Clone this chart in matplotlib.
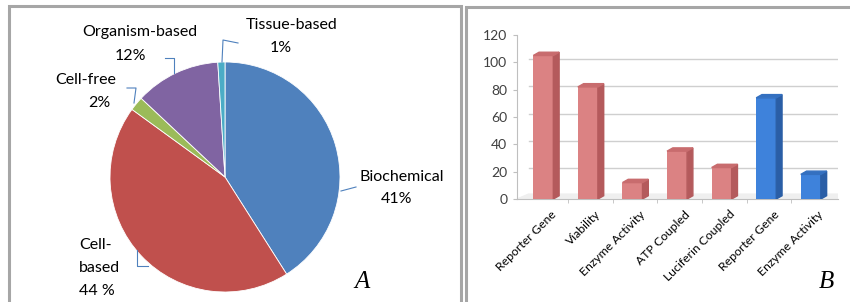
import matplotlib
matplotlib.use('Agg')
import matplotlib.pyplot as plt
from matplotlib.patches import Rectangle
import numpy as np

plt.rcParams['font.family'] = ['Lato', 'DejaVu Sans']

W, H = 850, 302

# pie data
pie_labels = ['Biochemical', 'Cell-based', 'Cell-free', 'Organism-based', 'Tissue-based']
pie_values = [41, 44, 2, 12, 1]
pie_pct = ['41%', '44 %', '2%', '12%', '1%']
pie_colors = ['#4F81BD', '#C0504D', '#9BBB59', '#8064A2', '#4BACC6']

# bar data
bar_labels = ['Reporter Gene', 'Viability', 'Enzyme Activity', 'ATP Coupled',
              'Luciferin Coupled', 'Reporter Gene', 'Enzyme Activity']
bar_values = [105, 82, 12, 35, 23, 74, 18]
bar_group = ['cell', 'cell', 'cell', 'cell', 'cell', 'bio', 'bio']
y_ticks = [0, 20, 40, 60, 80, 100, 120]


def fx(px):
    return px / W


def fy(py):
    return 1 - py / H


fig = plt.figure(figsize=(W / 100, H / 100), dpi=100)

# panel frames
fig.patches.append(Rectangle((fx(9), fy(310)), fx(461) - fx(9), fy(6) - fy(310),
                             transform=fig.transFigure, fill=False,
                             edgecolor='#A6A6A6', linewidth=2.2))
fig.patches.append(Rectangle((fx(466), fy(310)), fx(860) - fx(466), fy(7) - fy(310),
                             transform=fig.transFigure, fill=False,
                             edgecolor='#A6A6A6', linewidth=2.2))

# ---- panel A: pie ----
cx, cy, r = 225, 177, 115
axp = fig.add_axes([fx(cx - r), fy(cy + r), (2 * r) / W, (2 * r) / H])
axp.pie(pie_values, colors=pie_colors, startangle=90, counterclock=False,
        radius=1, wedgeprops=dict(edgecolor='white', linewidth=0.6))
axp.set_xlim(-1, 1)
axp.set_ylim(-1, 1)
axp.axis('off')


def px2d(px, py):
    return (px - cx) / r, (cy - py) / r


leaders = [
    [(341, 191), (356, 187)],
    [(148, 266), (137, 266), (137, 250)],
    [(127, 88), (136, 88), (134, 103)],
    [(165, 58), (174, 58), (174, 73)],
    [(238, 43), (223, 40), (222, 62)],
]
for pts in leaders:
    xs, ys = zip(*[px2d(*p) for p in pts])
    axp.plot(xs, ys, color='#4F81BD', linewidth=0.8, clip_on=False)

fs = 11.5
fig.text(fx(402), fy(177), pie_labels[0], ha='center', va='center', fontsize=fs)
fig.text(fx(397), fy(199), pie_pct[0], ha='center', va='center', fontsize=fs)
fig.text(fx(79), fy(245), 'Cell-', ha='left', va='center', fontsize=fs)
fig.text(fx(79), fy(268), 'based', ha='left', va='center', fontsize=fs)
fig.text(fx(79), fy(291), pie_pct[1], ha='left', va='center', fontsize=fs)
fig.text(fx(86), fy(80), pie_labels[2], ha='center', va='center', fontsize=fs)
fig.text(fx(99), fy(103), pie_pct[2], ha='center', va='center', fontsize=fs)
fig.text(fx(140), fy(32), pie_labels[3], ha='center', va='center', fontsize=fs)
fig.text(fx(130), fy(56), pie_pct[3], ha='center', va='center', fontsize=fs)
fig.text(fx(292), fy(25), pie_labels[4], ha='center', va='center', fontsize=fs)
fig.text(fx(281), fy(48), pie_pct[4], ha='center', va='center', fontsize=fs)
fig.text(fx(362), fy(282), 'A', ha='center', va='center', fontsize=18,
         family='Liberation Serif', style='italic')

# ---- panel B: pseudo 3D bars ----
axb = fig.add_axes([fx(517), fy(199), fx(838) - fx(517), fy(35) - fy(199)])
x = np.arange(len(bar_values))
w = 0.45
dx, dy = 0.13, 2.4
off = -0.06
front = {'cell': '#DB8283', 'bio': '#3E82DB'}
side = {'cell': '#B45A5C', 'bio': '#2A5EA6'}
top = {'cell': '#C86C6E', 'bio': '#3470C0'}

axb.fill([-0.65, 6.55, 6.55 + dx * 2, -0.65 + dx * 2], [0, 0, dy * 1.5, dy * 1.5],
         color='#EFEFEF', zorder=1)
for t in y_ticks[1:]:
    axb.plot([-0.65 + dx * 2, 6.6], [t + dy, t + dy], color='#CFCFCF', linewidth=1, zorder=0)

for xi, v, g in zip(x, bar_values, bar_group):
    xl = xi + off - w / 2
    xr = xi + off + w / 2
    axb.bar(xi + off, v, width=w, color=front[g], linewidth=0, zorder=3)
    axb.fill([xr, xr + dx, xr + dx, xr], [0, dy, v + dy, v], color=side[g], zorder=3)
    axb.fill([xl, xr, xr + dx, xl + dx], [v, v, v + dy, v + dy], color=top[g], zorder=3)

axb.set_xlim(-0.65, 6.55)
axb.set_ylim(0, 120)
axb.set_yticks(y_ticks)
axb.set_xticks(x + 0.1)
axb.set_xticklabels(bar_labels, rotation=45, ha='right', rotation_mode='anchor',
                    fontsize=8.8)
axb.set_xticks(x[:-1] + 0.5, minor=True)
axb.tick_params(axis='x', which='major', length=0, pad=7)
axb.tick_params(axis='x', which='minor', length=3, color='#BFBFBF')
axb.tick_params(axis='y', length=3, color='#BFBFBF', labelsize=10, labelcolor='#404040', pad=4)
for s in ['top', 'right']:
    axb.spines[s].set_visible(False)
axb.spines['left'].set_color('#BFBFBF')
axb.spines['bottom'].set_color('#BFBFBF')
axb.patch.set_alpha(0)

fig.text(fx(826), fy(282), 'B', ha='center', va='center', fontsize=18,
         family='Liberation Serif', style='italic')

fig.savefig('out.png', dpi=100)
